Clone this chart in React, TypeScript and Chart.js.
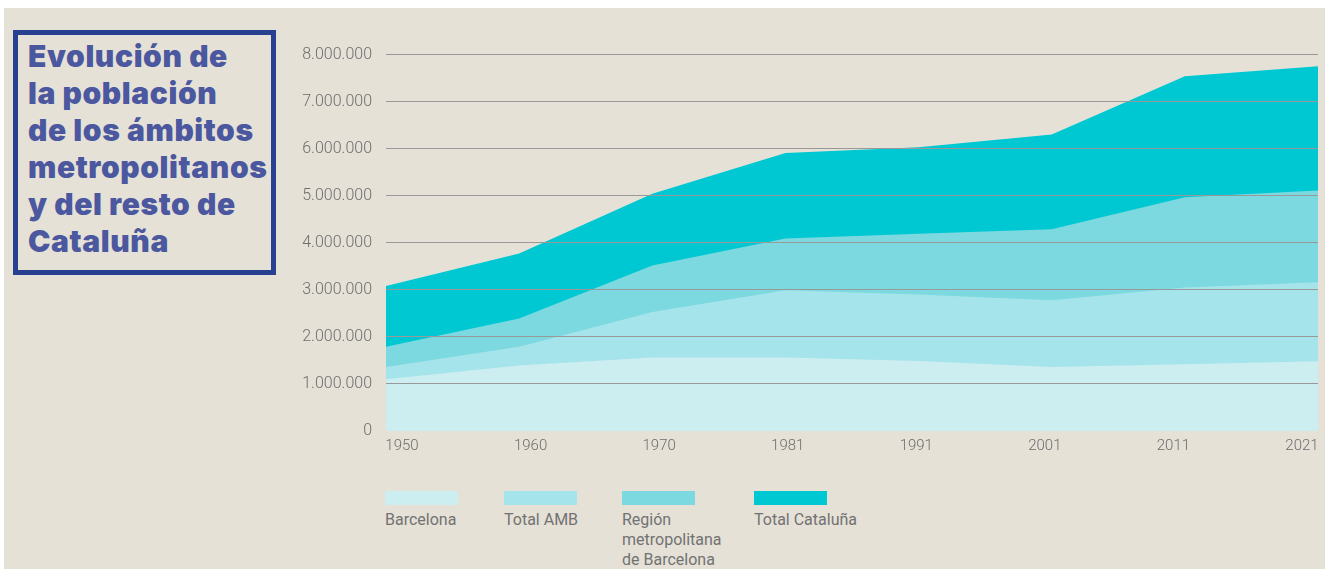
import React, { useEffect, useRef } from "react";
import { Chart, registerables } from "chart.js";

Chart.register(...registerables);

const years = ["1950", "1960", "1970", "1981", "1991", "2001", "2011", "2021"];
const barcelona = [1100000, 1390000, 1560000, 1560000, 1490000, 1360000, 1420000, 1480000];
const totalAMB = [1360000, 1790000, 2530000, 2990000, 2900000, 2780000, 3050000, 3160000];
const regionMetro = [1790000, 2390000, 3520000, 4090000, 4190000, 4290000, 4970000, 5110000];
const totalCataluna = [3080000, 3770000, 5040000, 5910000, 6030000, 6300000, 7540000, 7750000];

const seriesNames = ["Barcelona", "Total AMB", "Región\nmetropolitana\nde Barcelona", "Total Cataluña"];
const seriesColors = ["#cdeef0", "#a6e4eb", "#7bd9df", "#00c8d3"];
const titleLines = [
  "Evolución de",
  "la población",
  "de los ámbitos",
  "metropolitanos",
  "y del resto de",
  "Cataluña",
];

const fmt = (v: number) => String(Math.round(v)).replace(/\B(?=(\d{3})+(?!\d))/g, ".");

export default function App() {
  const ref = useRef<HTMLCanvasElement>(null);

  useEffect(() => {
    if (!ref.current) return;
    const values = [barcelona, totalAMB, regionMetro, totalCataluna];
    const chart = new Chart(ref.current, {
      type: "line",
      data: {
        labels: years,
        datasets: values.map((d, i) => ({
          label: seriesNames[i],
          data: d,
          backgroundColor: seriesColors[i],
          borderColor: seriesColors[i],
          borderWidth: 0,
          pointRadius: 0,
          fill: "origin",
          tension: 0,
        })),
      },
      options: {
        animation: false,
        responsive: false,
        maintainAspectRatio: false,
        layout: { padding: { top: 5, right: 2, left: 0, bottom: 0 } },
        plugins: { legend: { display: false }, tooltip: { enabled: false } },
        scales: {
          x: { type: "category", display: false, offset: false },
          xl: {
            type: "linear",
            position: "bottom",
            min: -0.1244,
            max: 7.1244,
            afterBuildTicks: (s: any) => {
              s.ticks = years.map((_, i) => ({ value: i }));
            },
            afterFit: (s: any) => {
              s.height = 29;
              s.paddingLeft = 0;
              s.paddingRight = 0;
            },
            ticks: {
              callback: (v: any) => years[Math.round(Number(v))],
              autoSkip: false,
              maxRotation: 0,
              padding: 6,
              color: "#6e6e6e",
              font: { family: "Roboto", size: 15, weight: "300" },
            },
            grid: { display: false, drawTicks: false },
            border: { display: false },
          },
          y: {
            min: 0,
            max: 8000000,
            afterFit: (s: any) => {
              s.width = 96;
            },
            ticks: {
              stepSize: 1000000,
              padding: 14,
              color: "#6e6e6e",
              font: { family: "Roboto", size: 16, weight: "300" },
              callback: (v: any) => fmt(Number(v)),
            },
            grid: {
              z: 1,
              drawTicks: false,
              lineWidth: 1,
              color: (ctx: any) => (ctx.tick && ctx.tick.value === 0 ? "rgba(0,0,0,0)" : "#999999"),
            },
            border: { display: false },
          },
        },
      },
    } as any);
    return () => chart.destroy();
  }, []);

  return (
    <div style={{ position: "fixed", left: 0, top: 0, right: 0, bottom: 0, background: "#ffffff", overflow: "hidden" }}>
      <div style={{ position: "absolute", left: 4, top: 8, right: 0, bottom: 0, background: "#e5e1d7" }} />
      <div
        style={{
          position: "absolute",
          left: 13,
          top: 30,
          width: 263,
          height: 245,
          border: "5px solid #27408f",
          boxSizing: "border-box",
          padding: "3px 0 0 10px",
          color: "#4b579e",
          fontFamily: "Inter, Roboto, sans-serif",
          fontWeight: 900,
          fontSize: 30,
          letterSpacing: "0.6px",
          lineHeight: "37px",
          whiteSpace: "nowrap",
        }}
      >
        {titleLines.map((t, i) => (
          <div key={i}>{t}</div>
        ))}
      </div>
      <div style={{ position: "absolute", left: 290, top: 31, width: 1030, height: 429 }}>
        <canvas ref={ref} width={1030} height={429} style={{ width: 1030, height: 429, display: "block" }} />
      </div>
      {seriesNames.map((n, i) => {
        const lefts = [385, 504, 622, 754];
        return (
          <div key={i} style={{ position: "absolute", left: lefts[i], top: 491 }}>
            <div style={{ width: 73, height: 14, background: seriesColors[i] }} />
            <div
              style={{
                marginTop: 5,
                fontFamily: "Roboto, sans-serif",
                fontWeight: 400,
                fontSize: 16,
                lineHeight: "20px",
                color: "#727272",
                whiteSpace: "pre",
              }}
            >
              {n}
            </div>
          </div>
        );
      })}
    </div>
  );
}
